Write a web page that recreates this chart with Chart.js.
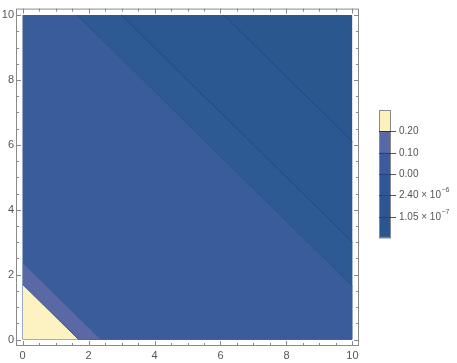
<!DOCTYPE html>
<html>
<head>
<meta charset="utf-8">
<script src="https://cdn.jsdelivr.net/npm/chart.js@4.4.0/dist/chart.umd.min.js"></script>
<style>
  html, body { margin: 0; padding: 0; background: #fff; }
  #wrap { width: 457px; height: 363px; position: relative; }
</style>
</head>
<body>
<div id="wrap"><canvas id="contorno"></canvas></div>
<script>
// contour boundaries, read as x + y = level
var contourLevels = [1.7, 2.36, 11.65, 13.0, 16.1, 20];
var bandColors = ['#fdf3c2', '#5a69a5', '#3a5c9b', '#2e5a93', '#2b5890', '#2a578e'];
// boundaries that show a thin dark line
var lineLevels = [1.7, 11.65, 13.0, 16.1];
var lineColors = ['#3d4f86', '#2c5189', '#1f4a80', '#1f4a80'];

var xTicks = [0, 2, 4, 6, 8, 10];
var yTicks = [0, 2, 4, 6, 8, 10];
var minorTicks = [0, 0.5, 1, 1.5, 2, 2.5, 3, 3.5, 4, 4.5, 5, 5.5, 6, 6.5, 7, 7.5, 8, 8.5, 9, 9.5, 10];

// legend (top to bottom)
var legendColors = ['#fdf1bb', '#5867a6', '#3c5a9e', '#2f5696', '#2c5592', '#2a5590'];
var legendLabels = ['0.20', '0.10', '0.00', '2.40 \u00d7 10', '1.05 \u00d7 10'];
var legendExps = ['', '', '', '\u22126', '\u22127'];

var lo = 0, hi = 10;

// region x + y < c inside the square, as a line filled down to y = 0
function bandPoints(c) {
    if (c <= hi) return [{x: lo, y: c}, {x: c, y: lo}];
    if (c >= 2 * hi) return [{x: lo, y: hi}, {x: hi, y: hi}];
    return [{x: lo, y: hi}, {x: c - hi, y: hi}, {x: hi, y: c - hi}];
}
function linePoints(c) {
    return [{x: Math.max(lo, c - hi), y: Math.min(hi, c)}, {x: Math.min(hi, c), y: Math.max(lo, c - hi)}];
}

var datasets = [];
lineLevels.forEach(function(c, i) {
    datasets.push({
        data: linePoints(c),
        showLine: true,
        borderColor: lineColors[i],
        borderWidth: 1,
        pointRadius: 0,
        fill: false
    });
});
contourLevels.forEach(function(c, i) {
    datasets.push({
        data: bandPoints(c),
        showLine: true,
        borderWidth: 0,
        borderColor: 'rgba(0,0,0,0)',
        backgroundColor: bandColors[i],
        pointRadius: 0,
        fill: 'origin'
    });
});

var frameColor = '#8a8a8a';
var textColor = '#555555';
var fontFam = "'Liberation Sans', Arial, sans-serif";

var frameTicks = {
    id: 'frameTicks',
    afterDraw: function(chart) {
        var ctx = chart.ctx, a = chart.chartArea;
        var sx = chart.scales.x, sy = chart.scales.y;
        ctx.save();
        ctx.strokeStyle = frameColor;
        ctx.lineWidth = 1;
        ctx.strokeRect(a.left + 0.5, a.top + 0.5, a.right - a.left - 1, a.bottom - a.top - 1);
        ctx.beginPath();
        minorTicks.forEach(function(v) {
            var len = (v % 2 === 0) ? 5 : 3;
            var px = Math.round(sx.getPixelForValue(v)) + 0.5;
            ctx.moveTo(px, a.bottom); ctx.lineTo(px, a.bottom - len);
            ctx.moveTo(px, a.top); ctx.lineTo(px, a.top + len);
            var py = Math.round(sy.getPixelForValue(v)) + 0.5;
            ctx.moveTo(a.left, py); ctx.lineTo(a.left + len, py);
            ctx.moveTo(a.right, py); ctx.lineTo(a.right - len, py);
        });
        ctx.stroke();
        ctx.restore();
    }
};

var colorBar = {
    id: 'colorBar',
    afterDraw: function(chart) {
        var ctx = chart.ctx;
        var bx = 379, bw = 12, top = 110, segH = 21.3;
        ctx.save();
        legendColors.forEach(function(col, i) {
            ctx.fillStyle = col;
            ctx.fillRect(bx, top + i * segH, bw, segH + 0.5);
        });
        ctx.strokeStyle = frameColor;
        ctx.lineWidth = 1;
        ctx.strokeRect(bx + 0.5, top + 0.5, bw - 1, segH * legendColors.length - 1);
        ctx.textBaseline = 'middle';
        legendLabels.forEach(function(lab, i) {
            var y = Math.round(top + (i + 1) * segH) + 0.5;
            ctx.strokeStyle = i === 0 ? '#333333' : '#24467a';
            ctx.beginPath();
            ctx.moveTo(bx, y); ctx.lineTo(bx + bw, y);
            ctx.stroke();
            ctx.strokeStyle = '#555555';
            ctx.beginPath();
            ctx.moveTo(bx + bw, y); ctx.lineTo(bx + bw + 5, y);
            ctx.stroke();
            ctx.fillStyle = textColor;
            ctx.font = '10px ' + fontFam;
            ctx.fillText(lab, 399, y);
            if (legendExps[i]) {
                var w = ctx.measureText(lab).width;
                ctx.font = '7px ' + fontFam;
                ctx.fillText(legendExps[i], 399 + w + 0.5, y - 5);
            }
        });
        ctx.restore();
    }
};

var ctxContorno = document.getElementById('contorno');
var grafico = new Chart(ctxContorno, {
    type: 'scatter',
    data: { datasets: datasets },
    options: {
        responsive: true,
        maintainAspectRatio: false,
        animation: false,
        layout: { padding: { top: 2, right: 98, left: 0, bottom: 0 } },
        plugins: { legend: { display: false }, tooltip: { enabled: false } },
        elements: { line: { tension: 0 } },
        scales: {
            x: {
                type: 'linear', min: -0.2, max: 10.2,
                grid: { display: false, drawTicks: false },
                border: { display: false },
                afterBuildTicks: function(s) { s.ticks = xTicks.map(function(v) { return {value: v}; }); },
                afterFit: function(s) { s.height = 17; },
                ticks: { color: textColor, font: { family: fontFam, size: 11 }, padding: 3, maxRotation: 0, autoSkip: false,
                         callback: function(v) { return String(v); } }
            },
            y: {
                type: 'linear', min: -0.2, max: 10.2,
                grid: { display: false, drawTicks: false },
                border: { display: false },
                afterBuildTicks: function(s) { s.ticks = yTicks.map(function(v) { return {value: v}; }); },
                afterFit: function(s) { s.width = 16; },
                ticks: { color: textColor, font: { family: fontFam, size: 11 }, padding: 2, autoSkip: false,
                         callback: function(v) { return String(v); } }
            }
        }
    },
    plugins: [frameTicks, colorBar]
});
</script>
</body>
</html>
